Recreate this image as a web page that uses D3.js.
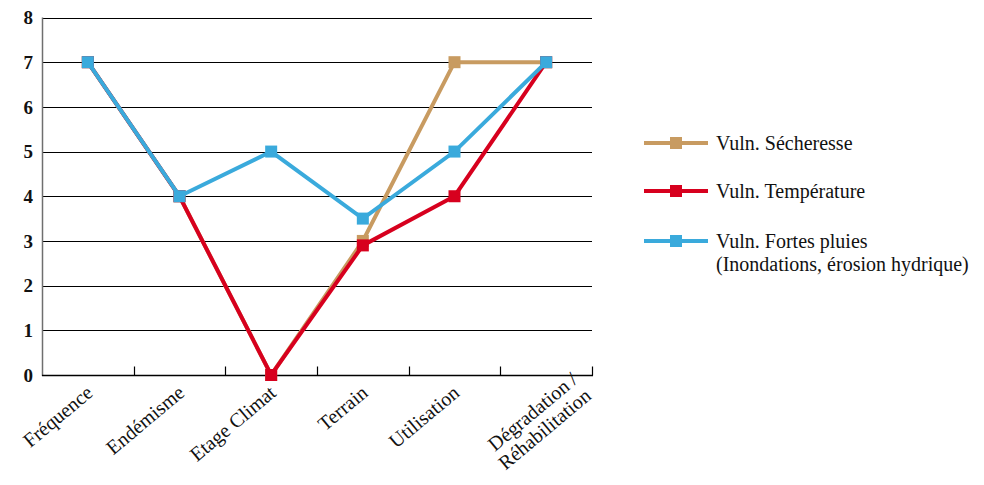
<!DOCTYPE html>
<html>
<head>
<meta charset="utf-8">
<script src="https://cdn.jsdelivr.net/npm/d3@7"></script>
<style>
  html, body { margin: 0; padding: 0; background: #fff; }
  svg { display: block; }
  svg text { font-family: 'Liberation Serif', 'DejaVu Serif', 'Times New Roman', serif; }
</style>
</head>
<body>
<svg id="chart" width="984" height="485"></svg>
<script>
// Categories on the x axis (multi-line labels split on "\n")
const categories = ["Fréquence", "Endémisme", "Etage Climat", "Terrain", "Utilisation", "Dégradation /\nRéhabilitation"];
// Vulnerability scores per category
const secheresse  = [7, 4, 0, 3, 7, 7];
const temperature = [7, 4, 0, 2.9, 4, 7];
const pluies      = [7, 4, 5, 3.5, 5, 7];
const yTicks = [0, 1, 2, 3, 4, 5, 6, 7, 8];

const series = [
  { name: ["Vuln. Sécheresse"], values: secheresse, color: "#C89B61" },
  { name: ["Vuln. Température"], values: temperature, color: "#D7001E" },
  { name: ["Vuln. Fortes pluies", "(Inondations, érosion hydrique)"], values: pluies, color: "#3AAADC" }
];

const svg = d3.select("#chart");
const margin = { left: 42, right: 592, top: 17.5, bottom: 375 };

const x = d3.scaleBand().domain(categories).range([margin.left, margin.right]);
const y = d3.scaleLinear().domain([0, 8]).range([margin.bottom, margin.top]);

// Horizontal gridlines
svg.append("g").selectAll("line").data(yTicks.filter(d => d > 0)).join("line")
  .attr("x1", margin.left).attr("x2", margin.right)
  .attr("y1", d => Math.round(y(d)) + 0.5).attr("y2", d => Math.round(y(d)) + 0.5)
  .attr("stroke", "#000").attr("stroke-width", 1.2);

// Left axis line
svg.append("line")
  .attr("x1", margin.left + 0.5).attr("x2", margin.left + 0.5)
  .attr("y1", y(8)).attr("y2", y(0) + 1)
  .attr("stroke", "#6f6f6f").attr("stroke-width", 1.5);

// Y tick labels
svg.append("g").selectAll("text").data(yTicks).join("text")
  .attr("x", 33).attr("y", d => y(d)).attr("dy", "0.36em")
  .attr("text-anchor", "end")
  .attr("font-size", 19).attr("font-weight", "bold").attr("fill", "#111")
  .text(d => d);

// Bottom axis with inward ticks at band edges
const xAxis = svg.append("g").attr("transform", `translate(0,${Math.round(y(0)) + 0.5})`);
xAxis.append("line").attr("x1", margin.left).attr("x2", margin.right + 1)
  .attr("stroke", "#000").attr("stroke-width", 1.3);
const edges = categories.map(c => x(c)).slice(1).concat([margin.right]);
xAxis.selectAll("line.tick").data(edges).join("line").attr("class", "tick")
  .attr("x1", d => Math.round(d) + 0.5).attr("x2", d => Math.round(d) + 0.5)
  .attr("y1", 0).attr("y2", -9)
  .attr("stroke", "#000").attr("stroke-width", 1.2);

// Rotated category labels; wrapped labels are nudged to the right
const cx = c => x(c) + x.bandwidth() / 2;
const angle = -40;
const nLines = c => c.split("\n").length;
const labels = svg.append("g").selectAll("text").data(categories).join("text")
  .attr("transform", c => {
    const extra = nLines(c) - 1;
    return `translate(${cx(c) + 3 + extra * 40},${Math.round(y(0)) + 16 + extra * 3}) rotate(${angle})`;
  })
  .attr("text-anchor", "end")
  .attr("font-size", 20).attr("fill", "#111");
labels.each(function (c) {
  const lines = c.split("\n");
  const t = d3.select(this);
  lines.forEach((ln, i) => {
    t.append("tspan").attr("x", 0)
      .attr("y", (i - (lines.length - 1)) * 21 + 5)
      .text(ln);
  });
});

// Lines and square markers
const line = d3.line().x((d, i) => cx(categories[i])).y(d => y(d));
const ms = 12;
series.forEach(s => {
  svg.append("path").datum(s.values)
    .attr("d", line).attr("fill", "none")
    .attr("stroke", s.color).attr("stroke-width", 4);
  svg.append("g").selectAll("rect").data(s.values).join("rect")
    .attr("x", (d, i) => cx(categories[i]) - ms / 2)
    .attr("y", d => y(d) - ms / 2)
    .attr("width", ms).attr("height", ms)
    .attr("fill", s.color);
});

// Legend
const legendY = [143, 191, 241];
const lg = svg.append("g");
series.forEach((s, i) => {
  const gy = legendY[i];
  lg.append("line").attr("x1", 644).attr("x2", 708).attr("y1", gy).attr("y2", gy)
    .attr("stroke", s.color).attr("stroke-width", 4);
  lg.append("rect").attr("x", 676 - 6).attr("y", gy - 6).attr("width", 12).attr("height", 12)
    .attr("fill", s.color);
  const t = lg.append("text").attr("x", 716).attr("y", gy)
    .attr("font-size", 20).attr("fill", "#111");
  s.name.forEach((n, j) => {
    t.append("tspan").attr("x", 716).attr("dy", j === 0 ? "0.33em" : "1.15em").text(n);
  });
});
</script>
</body>
</html>
